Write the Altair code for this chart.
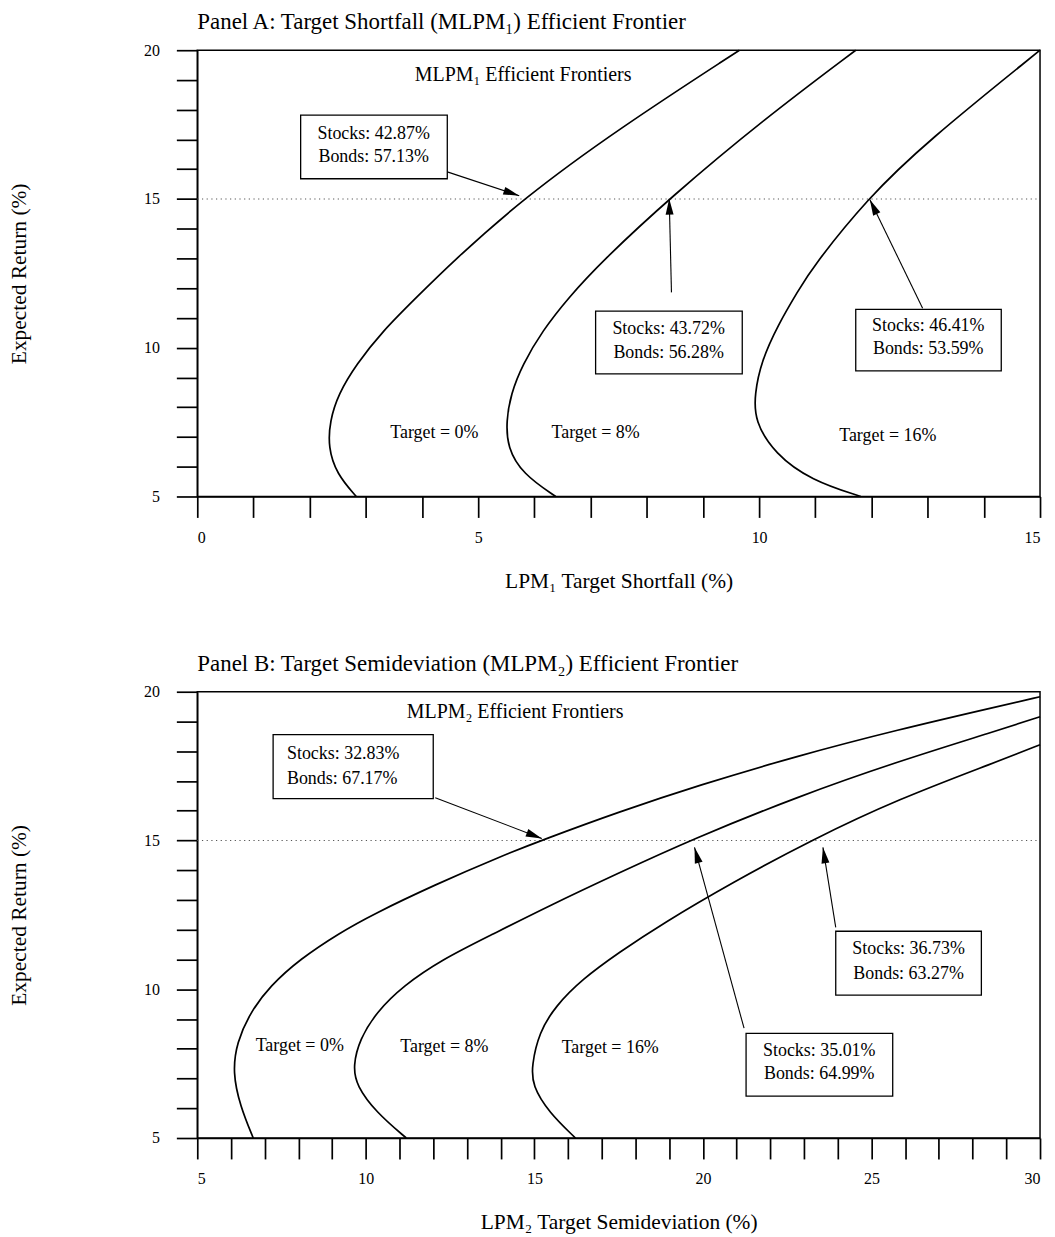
import math
import altair as alt
import pandas as pd

FONT = "Liberation Serif"
W, H = 846, 448

# ---------------- Panel A data (x = LPM1 target shortfall %, y = expected return %) ----------------
a_t0_x = [2.83, 2.48, 2.33, 2.36, 2.51, 2.83, 3.30, 3.89, 4.55, 5.79, 7.50, 9.65]
a_t0_y = [5.00, 5.76, 6.65, 7.54, 8.44, 9.44, 10.56, 11.67, 12.90, 15.00, 17.36, 20.00]
a_t8_x = [6.38, 5.79, 5.52, 5.50, 5.58, 5.79, 6.14, 6.60, 7.20, 8.42, 10.10, 11.72]
a_t8_y = [5.00, 5.76, 6.65, 7.54, 8.44, 9.44, 10.56, 11.67, 12.90, 15.05, 17.70, 20.00]
a_t16_x = [11.81, 10.93, 10.28, 9.92, 9.92, 10.04, 10.34, 10.69, 10.96, 11.93, 12.98, 15.00]
a_t16_y = [5.00, 5.54, 6.43, 7.54, 8.44, 9.55, 10.78, 11.90, 12.73, 15.02, 16.92, 20.00]

a_box_x1 = [1.84, 7.09, 11.72]
a_box_x2 = [4.45, 9.70, 14.31]
a_box_y1 = [17.82, 11.23, 11.29]
a_box_y2 = [15.68, 9.12, 9.22]
a_box_tx = [3.14, 8.39, 13.01]
a_box_ty1 = [17.19, 10.62, 10.72]
a_box_ty2 = [16.42, 9.82, 9.95]
a_stocks = ["Stocks: 42.87%", "Stocks: 43.72%", "Stocks: 46.41%"]
a_bonds = ["Bonds: 57.13%", "Bonds: 56.28%", "Bonds: 53.59%"]
a_arrow_fx = [4.45, 8.44, 12.91]
a_arrow_fy = [15.91, 11.86, 11.33]
a_arrow_tx = [5.73, 8.40, 11.97]
a_arrow_ty = [15.11, 15.01, 14.98]
a_target_labels = ["Target = 0%", "Target = 8%", "Target = 16%"]
a_target_x = [4.22, 7.09, 12.29]
a_target_y = [7.14, 7.14, 7.04]
a_head_text = "MLPM₁ Efficient Frontiers"
a_head_x, a_head_y = 5.80, 19.16

# ---------------- Panel B data (x = LPM2 target semideviation %) ----------------
b_t0_x = [6.66, 6.27, 6.05, 6.17, 6.57, 7.16, 8.04, 9.23, 10.18, 12.02, 14.07, 15.27, 17.50, 19.86, 22.82, 25.77, 28.73, 30.00]
b_t0_y = [5.00, 6.08, 7.20, 8.21, 9.22, 10.11, 11.01, 11.90, 12.50, 13.50, 14.50, 15.03, 15.96, 16.85, 17.85, 18.72, 19.50, 19.83]
b_t8_x = [11.20, 10.31, 9.72, 9.62, 9.82, 10.31, 11.10, 12.28, 13.66, 15.43, 17.49, 19.66, 22.82, 25.77, 28.73, 30.00]
b_t8_y = [5.00, 5.86, 6.76, 7.43, 8.32, 9.22, 10.11, 11.01, 11.79, 12.80, 13.90, 15.03, 16.48, 17.65, 18.69, 19.16]
b_t16_x = [16.22, 15.43, 14.94, 14.92, 15.14, 15.63, 16.42, 17.50, 18.79, 20.89, 23.25, 25.77, 28.73, 30.00]
b_t16_y = [5.00, 5.86, 6.76, 7.43, 8.55, 9.44, 10.34, 11.23, 12.20, 13.60, 15.03, 16.38, 17.65, 18.22]

b_box_x1 = [7.25, 23.94, 21.28]
b_box_x2 = [12.00, 28.26, 25.63]
b_box_y1 = [18.56, 11.95, 8.52]
b_box_y2 = [16.41, 9.80, 6.41]
b_box_tx = [7.66, 26.10, 23.45]
b_box_align = ["left", "center", "center"]
b_box_ty1 = [17.89, 11.34, 7.92]
b_box_ty2 = [17.05, 10.50, 7.15]
b_stocks = ["Stocks: 32.83%", "Stocks: 36.73%", "Stocks: 35.01%"]
b_bonds = ["Bonds: 67.17%", "Bonds: 63.27%", "Bonds: 64.99%"]
b_arrow_fx = [12.06, 23.94, 21.22]
b_arrow_fy = [16.44, 12.08, 8.69]
b_arrow_tx = [15.22, 23.56, 19.75]
b_arrow_ty = [15.07, 14.77, 14.77]
b_target_labels = ["Target = 0%", "Target = 8%", "Target = 16%"]
b_target_x = [8.04, 12.33, 17.25]
b_target_y = [8.10, 8.05, 8.04]
b_head_text = "MLPM₂ Efficient Frontiers"
b_head_x, b_head_y = 14.43, 19.33

Y_DOMAIN = [5, 20]
HEAD_PX = 8.0


def panel(title, xdom, xtitle, curves, boxes, arrows, targets, head):
    xmin, xmax = xdom
    sx = W / (xmax - xmin)
    sy = H / (Y_DOMAIN[1] - Y_DOMAIN[0])

    X = lambda f: alt.X(
        f, type="quantitative",
        scale=alt.Scale(domain=list(xdom), nice=False, zero=False),
        axis=alt.Axis(
            values=list(range(int(xmin), int(xmax) + 1)),
            labelExpr="datum.value % 5 === 0 ? datum.label : ''",
            title=xtitle,
        ),
    )
    Y = lambda f: alt.Y(
        f, type="quantitative",
        scale=alt.Scale(domain=Y_DOMAIN, nice=False, zero=False),
        axis=alt.Axis(
            values=list(range(5, 21)),
            labelExpr="datum.value % 5 === 0 ? datum.label : ''",
            title="Expected Return (%)",
        ),
    )

    ref = pd.DataFrame({"x": [xmin], "x2": [xmax], "y": [15]})
    ref_layer = alt.Chart(ref).mark_rule(
        color="#555", strokeWidth=1.1, strokeDash=[1.2, 3.5]
    ).encode(x=X("x"), x2="x2", y=Y("y"))

    rows = []
    for name, xs, ys in curves:
        for i, (a, b) in enumerate(zip(xs, ys)):
            rows.append({"curve": name, "i": i, "x": a, "y": b})
    cdf = pd.DataFrame(rows)
    curve_layer = alt.Chart(cdf).mark_line(
        color="black", strokeWidth=1.7, interpolate="basis"
    ).encode(x=X("x"), y=Y("y"), detail="curve:N", order="i:Q")

    x1, x2, y1, y2, tx, align, ty1, ty2, s_lab, b_lab = boxes
    bdf = pd.DataFrame({"x": x1, "x2": x2, "y": y1, "y2": y2})
    box_layer = alt.Chart(bdf).mark_rect(
        fill="white", stroke="black", strokeWidth=1.3
    ).encode(x=X("x"), x2="x2", y=Y("y"), y2="y2")

    trows = []
    for k in range(len(s_lab)):
        trows.append({"x": tx[k], "y": ty1[k], "t": s_lab[k], "a": align[k]})
        trows.append({"x": tx[k], "y": ty2[k], "t": b_lab[k], "a": align[k]})
    tdf = pd.DataFrame(trows)
    box_text = []
    for al in ["left", "center"]:
        sub = tdf[tdf["a"] == al]
        if len(sub):
            box_text.append(
                alt.Chart(sub).mark_text(
                    font=FONT, fontSize=18, color="black", align=al, baseline="middle"
                ).encode(x=X("x"), y=Y("y"), text="t:N")
            )

    fx, fy, ax_, ay_ = arrows
    adf = pd.DataFrame({"x": fx, "y": fy, "x2": ax_, "y2": ay_})
    arrow_layer = alt.Chart(adf).mark_rule(color="black", strokeWidth=1.1).encode(
        x=X("x"), y=Y("y"), x2="x2", y2="y2"
    )
    hrows = []
    for a, b, c, d in zip(fx, fy, ax_, ay_):
        dxp = (c - a) * sx
        dyp = -(d - b) * sy
        L = math.hypot(dxp, dyp)
        ux, uy = dxp / L, dyp / L
        ang = math.degrees(math.atan2(ux, -uy)) % 360
        cx = c - ux * HEAD_PX / sx
        cy = d + uy * HEAD_PX / sy
        hrows.append({"x": cx, "y": cy, "ang": ang})
    hdf = pd.DataFrame(hrows)
    head_layer = alt.Chart(hdf).mark_point(
        shape="M0,-1L0.5,1L-0.5,1Z", filled=True, color="black", opacity=1, size=256
    ).encode(
        x=X("x"), y=Y("y"),
        angle=alt.Angle("ang:Q", scale=None),
    )

    labs, lx, ly = targets
    tl = pd.DataFrame({"x": lx, "y": ly, "t": labs})
    lab_layer = alt.Chart(tl).mark_text(
        font=FONT, fontSize=18, color="black", align="center", baseline="middle"
    ).encode(x=X("x"), y=Y("y"), text="t:N")
    hl = pd.DataFrame({"x": [head[1]], "y": [head[2]], "t": [head[0]]})
    head_text_layer = alt.Chart(hl).mark_text(
        font=FONT, fontSize=20, color="black", align="center", baseline="middle"
    ).encode(x=X("x"), y=Y("y"), text="t:N")

    return alt.layer(
        ref_layer, curve_layer, arrow_layer, box_layer, *box_text, head_layer,
        lab_layer, head_text_layer,
    ).properties(
        width=W, height=H,
        title=alt.TitleParams(
            title, anchor="start", frame="group", font=FONT, fontSize=23,
            fontWeight="normal", color="black", offset=8,
        ),
    )


pA = panel(
    "Panel A: Target Shortfall (MLPM₁) Efficient Frontier", (0, 15), "LPM₁ Target Shortfall (%)",
    [("t0", a_t0_x, a_t0_y), ("t8", a_t8_x, a_t8_y), ("t16", a_t16_x, a_t16_y)],
    (a_box_x1, a_box_x2, a_box_y1, a_box_y2, a_box_tx, ["center"] * 3, a_box_ty1, a_box_ty2, a_stocks, a_bonds),
    (a_arrow_fx, a_arrow_fy, a_arrow_tx, a_arrow_ty),
    (a_target_labels, a_target_x, a_target_y),
    (a_head_text, a_head_x, a_head_y),
)
pB = panel(
    "Panel B: Target Semideviation (MLPM₂) Efficient Frontier", (5, 30), "LPM₂ Target Semideviation (%)",
    [("t0", b_t0_x, b_t0_y), ("t8", b_t8_x, b_t8_y), ("t16", b_t16_x, b_t16_y)],
    (b_box_x1, b_box_x2, b_box_y1, b_box_y2, b_box_tx, b_box_align, b_box_ty1, b_box_ty2, b_stocks, b_bonds),
    (b_arrow_fx, b_arrow_fy, b_arrow_tx, b_arrow_ty),
    (b_target_labels, b_target_x, b_target_y),
    (b_head_text, b_head_x, b_head_y),
)

chart = alt.vconcat(pA, pB, spacing=59).properties(
    padding={"left": 0, "top": 0, "right": 2, "bottom": 0},
    background="white",
).configure_view(
    stroke="black", strokeWidth=1.5
).configure_axis(
    grid=False,
    domainColor="black", domainWidth=1.5,
    tickColor="black", tickWidth=1.7, tickSize=21,
    labelFont=FONT, labelFontSize=16, labelColor="black",
    titleFont=FONT, titleFontSize=21.5, titleFontWeight="normal", titleColor="black",
).configure_axisY(
    labelPadding=17, titlePadding=113,
).configure_axisX(
    labelPadding=12, titlePadding=25, labelAngle=0,
)

chart.save("out.html", embed_options={"renderer": "svg", "actions": False})
